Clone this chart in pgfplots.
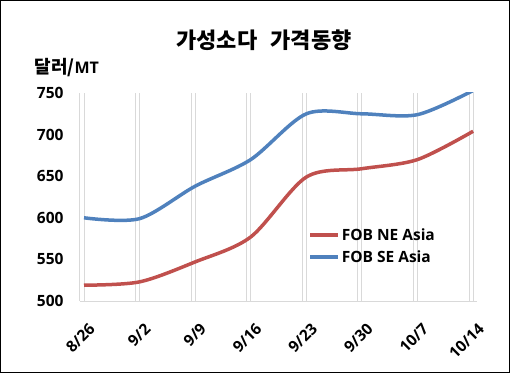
\documentclass[border=0pt]{standalone}
\usepackage{pgfplots}
\pgfplotsset{compat=1.18}
\usepackage{fontspec}
\setmainfont{Noto Sans CJK KR}
\newfontfamily\lat{Open Sans}
\definecolor{cred}{RGB}{192,80,77}
\definecolor{cblue}{RGB}{79,129,189}
\definecolor{cgrid}{RGB}{217,217,217}
\begin{document}
\begin{tikzpicture}
\begin{axis}[
  at={(0,0)}, anchor=south west,
  scale only axis, width=397bp, height=208bp,
  xmin=-0.072, xmax=7.07, ymin=500, ymax=750,
  xtick={0,...,7},
  xticklabels={8/26,9/2,9/9,9/16,9/23,9/30,10/7,10/14},
  ytick={500,550,...,750},
  minor xtick={-0.072,0.928,1.928,2.928,3.928,4.928,5.928,6.928},
  xmajorgrids, xminorgrids,
  grid style={cgrid, line width=1bp},
  minor grid style={cgrid, line width=1bp},
  major tick length=0pt, minor tick length=0pt,
  axis x line*=bottom, axis y line*=left,
  x axis line style={cgrid, line width=1bp, -},
  y axis line style={draw=none},
  /pgf/number format/assume math mode=true,
  ticklabel style={font=\fontsize{15.5bp}{17bp}\selectfont\lat\bfseries},
  yticklabel style={anchor=east, xshift=-13bp},
  xticklabel style={anchor=north east, xshift=4bp, yshift=-21bp, rotate=45, inner sep=0pt},
  clip=true,
  legend style={at={(0.567,0.37)}, anchor=north west, draw=none, fill=none,
    font=\fontsize{15.5bp}{17bp}\selectfont\lat\bfseries, row sep=5bp},
  legend cell align=left,
  legend image code/.code={\draw[#1] (0bp,0bp) -- (28bp,0bp);},
]
\addplot[cred, line width=3.5bp, smooth, tension=0.5] coordinates {
(0,519) (1,523) (2,547) (3,577) (4,649) (5,659) (6,670) (7,704)};
\addlegendentry{FOB NE Asia}
\addplot[cblue, line width=3.5bp, smooth, tension=0.5] coordinates {
(0,600) (1,599) (2,638) (3,670) (4,725) (5,725) (6,724) (7,753)};
\addlegendentry{FOB SE Asia}
\end{axis}
\draw[black, line width=1.5bp] (-79.25bp,-71.25bp) rectangle (429.25bp,300.25bp);
\node[font=\fontsize{22bp}{24bp}\selectfont\bfseries] at (184bp,261bp) {가성소다\hspace{0.6em}가격동향};
\node[anchor=west, font=\fontsize{18bp}{20bp}\selectfont\bfseries] at (-49bp,233bp) {달러/{\lat\fontsize{16bp}{18bp}\selectfont MT}};
\end{tikzpicture}
\end{document}
